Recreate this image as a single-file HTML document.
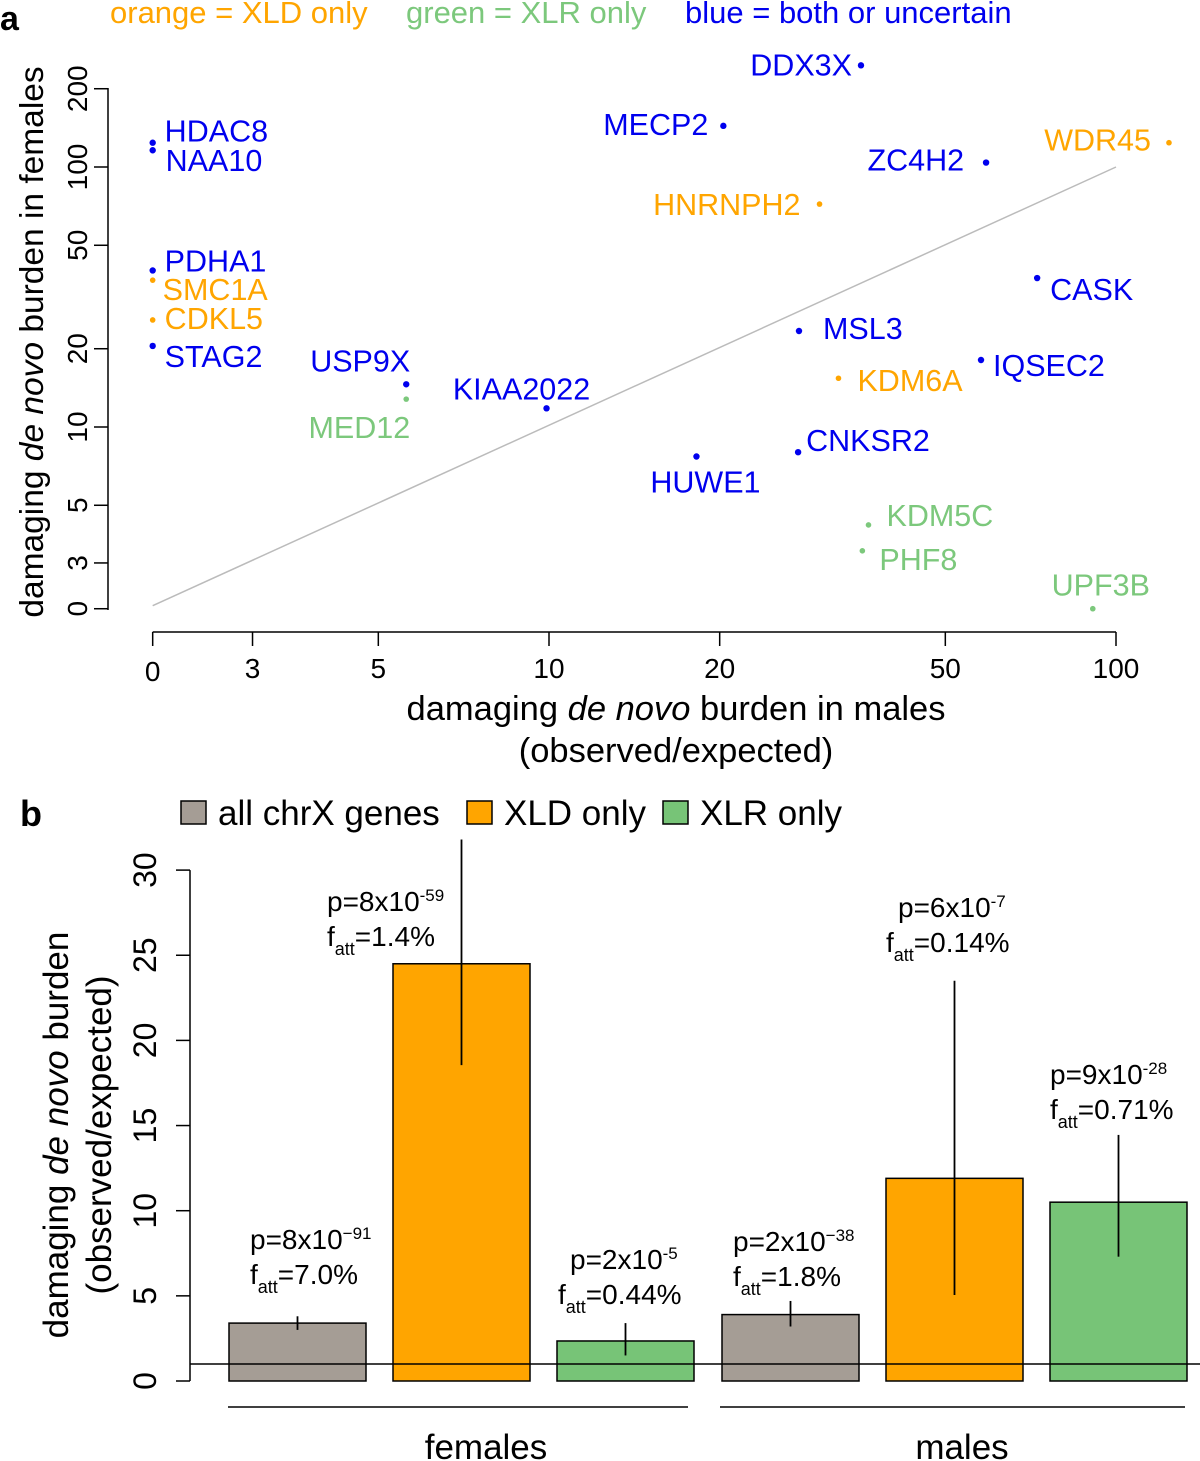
<!DOCTYPE html>
<html><head><meta charset="utf-8"><style>
html,body{margin:0;padding:0;background:#fff;}
svg{display:block;font-family:"Liberation Sans",Arial,sans-serif;}
</style></head><body>
<svg id="fig" width="1200" height="1461" viewBox="0 0 1200 1461">
<text x="0" y="30" font-size="34" font-weight="bold">a</text>
<text x="110" y="23" font-size="31" fill="#FFA500">orange = XLD only</text>
<text x="406" y="23" font-size="31" fill="#7CC87C">green = XLR only</text>
<text x="685" y="23" font-size="31" fill="#0000EE">blue = both or uncertain</text>
<g id="pa"></g>
<text x="20" y="826" font-size="36" font-weight="bold">b</text>
<g id="pb"></g>
</svg>
<script>
// ---- Panel a data ----
const genes = ["HDAC8","NAA10","PDHA1","SMC1A","CDKL5","STAG2","USP9X","MED12","KIAA2022","DDX3X","MECP2","ZC4H2","WDR45","HNRNPH2","CASK","MSL3","IQSEC2","KDM6A","CNKSR2","HUWE1","KDM5C","PHF8","UPF3B"];
const maleBurden = [0,0,0,0,0,0,5.6,5.6,9.9,35.5,20.3,59,124,30,72.6,27.6,57.8,32.4,27.5,18.2,36.6,35.7,91];
const femaleBurden = [124,116,40,36.7,25.8,20.5,14.6,12.8,11.8,246,144,104,124,72,37.4,23.4,18.1,15.4,8.0,7.7,4.2,3.34,0];
const geneClass = ["b","b","b","o","o","b","b","g","b","b","b","b","o","o","b","b","b","o","b","b","g","g","g"];
const xTicks = [0,3,5,10,20,50,100];
const yTicks = [0,3,5,10,20,50,100,200];
// ---- Panel b data ----
const barGroups = ["females","females","females","males","males","males"];
const barSets = ["all","xld","xlr","all","xld","xlr"];
const barValues = [3.4,24.5,2.35,3.9,11.9,10.5];
const errLow = [3.0,18.55,1.5,3.2,5.05,7.3];
const errHigh = [3.8,31.8,3.4,4.7,23.5,14.45];
const pMant = ["8","8","2","2","6","9"];
const pExp = ["−91","-59","-5","−38","-7","-28"];
const fatt = ["7.0%","1.4%","0.44%","1.8%","0.14%","0.71%"];
const bTicks = [0,5,10,15,20,25,30];

const NS="http://www.w3.org/2000/svg";
function mk(tag,attrs,parent,text){const e=document.createElementNS(NS,tag);for(const k in attrs)e.setAttribute(k,attrs[k]);if(text!==undefined)e.textContent=text;parent.appendChild(e);return e;}
const colors={b:"#0000EE",o:"#FFA500",g:"#7CC87C"};
const pa=document.getElementById('pa');
function xs(v){const t=v<=0?2:v;return 549+(Math.log10(t)-1)*567;}
function ys(v){const t=v<=0?2:v;return 427-(Math.log10(t)-1)*260;}
const lblDx=[12,13,12,10,12,12,4,4,-25,-9,-15,-22,-18,-19,13,24,12,19,8,9,18,17,8];
const lblDy=[-12,10,-10,9,-2,10,-24,28,-20,-1,-2,-3,-3,0,11,-3,5,2,-12,25,-10,8,-24];
const lblAnchor=["start","start","start","start","start","start","end","end","middle","end","end","end","end","end","start","start","start","start","start","middle","start","start","middle"];
let l=mk('line',{x1:108,y1:88,x2:108,y2:610,stroke:"#000","stroke-width":1.5},pa);

l=mk('line',{x1:xs(0),y1:632,x2:xs(100),y2:632,stroke:"#000","stroke-width":1.5},pa);

yTicks.forEach(v=>{const y=ys(v);
 const t=mk('line',{x1:94,y1:y,x2:108,y2:y,stroke:"#000","stroke-width":1.5},pa);
 
 const tx=mk('text',{x:0,y:0,"font-size":28,"text-anchor":"middle",transform:`translate(87,${y}) rotate(-90)`},pa,String(v));
 });
xTicks.forEach(v=>{const x=xs(v);
 const t=mk('line',{x1:x,y1:632,x2:x,y2:646,stroke:"#000","stroke-width":1.5},pa);
 
 const tx=mk('text',{x:x,y:v===0?681:678,"font-size":28,"text-anchor":"middle"},pa,String(v));
 });
l=mk('line',{x1:xs(0),y1:ys(0)-3,x2:xs(100),y2:ys(100),stroke:"#bbb","stroke-width":1.5},pa);

let tt=mk('text',{"font-size":33.5,"text-anchor":"middle",transform:"translate(43,342) rotate(-90)"},pa);

tt.innerHTML='damaging <tspan font-style="italic">de novo</tspan> burden in females';
tt=mk('text',{x:676,y:720,"font-size":34.5,"text-anchor":"middle"},pa);

tt.innerHTML='damaging <tspan font-style="italic">de novo</tspan> burden in males';
tt=mk('text',{x:676,y:762,"font-size":34.5,"text-anchor":"middle"},pa,'(observed/expected)');

genes.forEach((g,i)=>{const x=xs(maleBurden[i]),y=ys(femaleBurden[i]);const c=colors[geneClass[i]];
 const p=mk('circle',{cx:x,cy:y,r:geneClass[i]==="b"?3.2:2.8,fill:c},pa);
 
 const t=mk('text',{x:x+lblDx[i],y:y+lblDy[i]+11,"font-size":30.5,fill:c,"text-anchor":lblAnchor[i]},pa,g);
 });

// ---- Panel b ----
const pb=document.getElementById('pb');
function by(v){return 1381-v*17.03;}
const barX=[229,393,557,722,886,1050];const barW=137;
const annX=[250,327,558,733,886,1050];
const annPY=[1249,911,1269,1251,917,1084];
const setColor={all:"#A59D95",xld:"#FFA500",xlr:"#77C477"};
l=mk('line',{x1:190,y1:by(0),x2:190,y2:by(30),stroke:"#000","stroke-width":1.5},pb);

bTicks.forEach(v=>{const y=by(v);
 const t=mk('line',{x1:176,y1:y,x2:190,y2:y,stroke:"#000","stroke-width":1.5},pb);
 
 const tx=mk('text',{"font-size":32,"text-anchor":"middle",transform:`translate(156,${y}) rotate(-90)`},pb,String(v));
 });
tt=mk('text',{"font-size":35,"text-anchor":"middle",transform:"translate(68,1135) rotate(-90)"},pb);

tt.innerHTML='damaging <tspan font-style="italic">de novo</tspan> burden';
tt=mk('text',{"font-size":35,"text-anchor":"middle",transform:"translate(111,1135) rotate(-90)"},pb,'(observed/expected)');

barValues.forEach((v,i)=>{const x=barX[i];
 const r=mk('rect',{x:x,y:by(v),width:barW,height:by(0)-by(v),fill:setColor[barSets[i]],stroke:"#000","stroke-width":1.5},pb);
 
 const cx=x+barW/2;
 const e=mk('line',{x1:cx,y1:by(errLow[i]),x2:cx,y2:by(errHigh[i]),stroke:"#000","stroke-width":1.8},pb);
 
 const px=annX[i]+(i===2||i===4?12:0);
 const pt=mk('text',{x:px,y:annPY[i],"font-size":28},pb);
 
 pt.innerHTML='p='+pMant[i]+'x10<tspan font-size="17" dy="-10">'+pExp[i]+'</tspan>';
 const ft=mk('text',{x:annX[i],y:annPY[i]+35,"font-size":28},pb);
 
 ft.innerHTML='f<tspan font-size="18" dy="9">att</tspan><tspan dy="-9">='+fatt[i]+'</tspan>';
});
l=mk('line',{x1:190,y1:by(1),x2:1200,y2:by(1),stroke:"#000","stroke-width":1.5},pb);

l=mk('line',{x1:228,y1:1407,x2:688,y2:1407,stroke:"#000","stroke-width":1.5},pb);

l=mk('line',{x1:720,y1:1407,x2:1185,y2:1407,stroke:"#000","stroke-width":1.5},pb);

tt=mk('text',{x:486,y:1459,"font-size":35,"text-anchor":"middle"},pb,'females');

tt=mk('text',{x:962,y:1459,"font-size":35,"text-anchor":"middle"},pb,'males');

const leg=[["all chrX genes",181,"#A59D95"],["XLD only",467,"#FFA500"],["XLR only",663,"#77C477"]];
leg.forEach(d=>{const r=mk('rect',{x:d[1],y:801,width:25,height:23,fill:d[2],stroke:"#000","stroke-width":1.5},pb);
 
 const t=mk('text',{x:d[1]+37,y:825,"font-size":35},pb,d[0]);
 });
</script>
</body></html>
